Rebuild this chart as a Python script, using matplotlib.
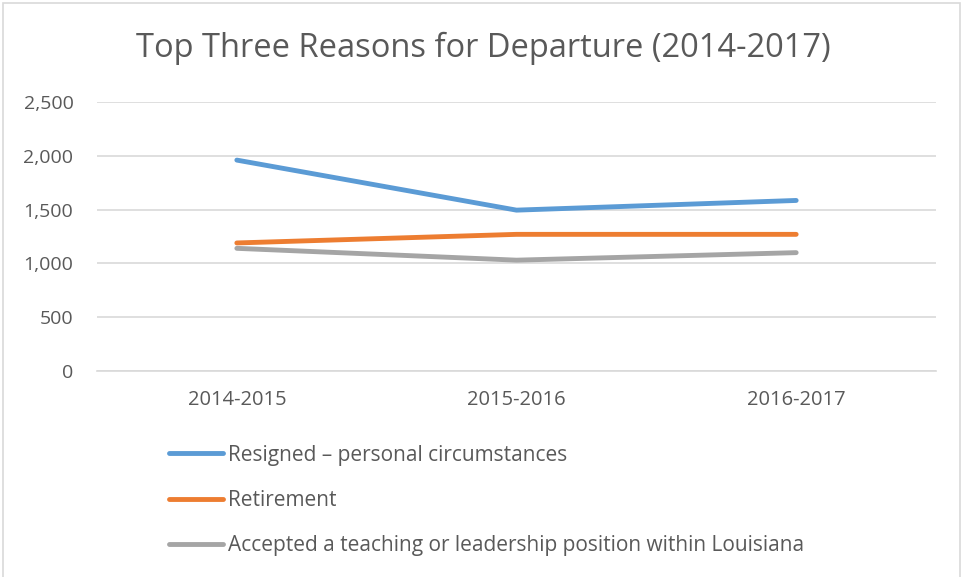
import numpy as np
from matplotlib import pyplot as plt
from matplotlib.patches import Rectangle

years = ['2014-2015', '2015-2016', '2016-2017']
resigned = [1960, 1495, 1585]
retirement = [1190, 1270, 1270]
accepted = [1140, 1030, 1100]
labels = ['Resigned \u2013 personal circumstances',
          'Retirement',
          'Accepted a teaching or leadership position within Louisiana']
colors = ['#5b9bd5', '#ed7d31', '#a5a5a5']

plt.rcParams['font.family'] = ['Open Sans', 'DejaVu Sans']
txt = '#595959'

fig = plt.figure(figsize=[9.62, 5.77], dpi=100)
ax = fig.add_axes([97 / 962, 1 - 371 / 577, 839 / 962, 269 / 577])

# chart border
fig.patches.append(Rectangle((3 / 962, -0.01), 957 / 962, 1 - 3 / 577 + 0.01,
                             transform=fig.transFigure, fill=False,
                             edgecolor='#d9d9d9', linewidth=1.2))

x = np.arange(len(years))
lines = []
for vals, c, lab in zip([resigned, retirement, accepted], colors, labels):
    ln, = ax.plot(x, vals, color=c, linewidth=3.5, solid_capstyle='round', label=lab)
    lines.append(ln)

ax.set_xlim(-0.5, 2.5)
ax.set_ylim(0, 2500)
ax.set_yticks(np.arange(0, 2501, 500))
ax.set_yticklabels([f'{v:,}' for v in range(0, 2501, 500)])
ax.set_xticks(x)
ax.set_xticklabels(years)
ax.tick_params(length=0, colors=txt)
ax.tick_params(axis='x', pad=14, labelsize=14.5)
ax.tick_params(axis='y', pad=17, labelsize=14)
ax.grid(axis='y', color='#d9d9d9', linewidth=1.2)
ax.set_axisbelow(True)
for s in ['top', 'right', 'left']:
    ax.spines[s].set_visible(False)
ax.spines['bottom'].set_color('#d9d9d9')
ax.spines['bottom'].set_linewidth(1.2)

fig.text(483 / 962, 1 - 48 / 577, 'Top Three Reasons for Departure (2014-2017)',
         ha='center', va='center', fontsize=23.5, color=txt)

fig.legend(handles=lines, loc='upper left', bbox_to_anchor=(150 / 962, 1 - 426 / 577),
           frameon=False, fontsize=15, labelcolor=txt, handlelength=2.6,
           handletextpad=0.25, labelspacing=1.16)

plt.savefig('out.png', dpi=100)
